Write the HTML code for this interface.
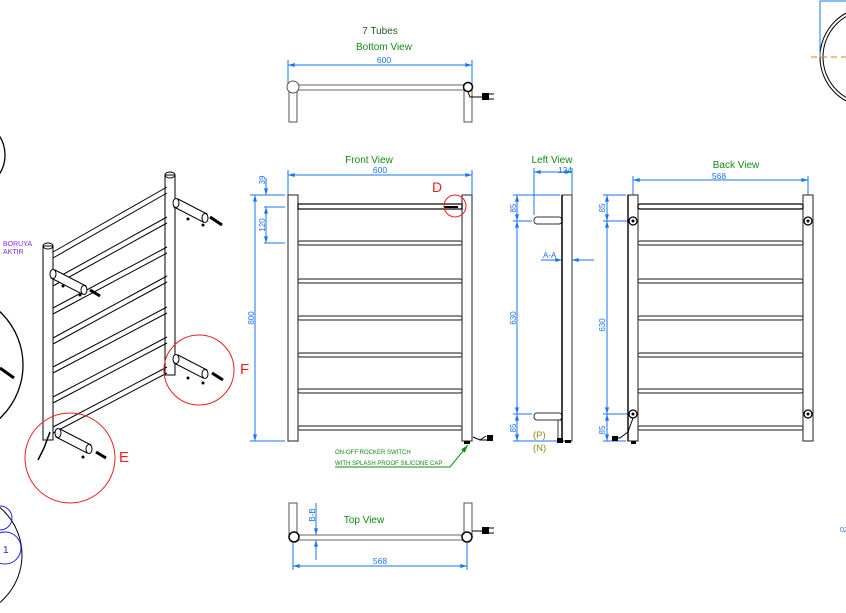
<!DOCTYPE html>
<html><head><meta charset="utf-8"><style>
html,body{margin:0;padding:0;background:#fff;width:846px;height:613px;overflow:hidden}
svg{display:block}
text{font-family:"Liberation Sans",sans-serif}
</style></head><body>
<svg width="846" height="613" viewBox="0 0 846 613" xmlns="http://www.w3.org/2000/svg">
<defs>
<marker id="a" viewBox="0 0 10 6" refX="10" refY="3" markerWidth="10" markerHeight="4" orient="auto-start-reverse"><path d="M0,0L10,3L0,6z" fill="#1a73f0"/></marker>
<marker id="g" viewBox="0 0 10 6" refX="10" refY="3" markerWidth="8" markerHeight="5" orient="auto"><path d="M0,0L10,3L0,6z" fill="#138a13"/></marker>
</defs>
<circle cx="-30" cy="155" r="35" fill="none" stroke="#000" stroke-width="1.3"/>
<circle cx="-50" cy="365" r="73" fill="none" stroke="#000" stroke-width="1.3"/>
<line x1="0" y1="368" x2="14" y2="378" stroke="#000" stroke-width="3"/>
<circle cx="-40" cy="555" r="62" fill="none" stroke="#000" stroke-width="1"/>
<circle cx="0" cy="518" r="12" fill="none" stroke="#2020ff" stroke-width="1"/>
<circle cx="5" cy="548" r="16" fill="none" stroke="#2020ff" stroke-width="1"/>
<text x="3" y="553" font-size="10" fill="#2020ff">1</text>
<circle cx="870" cy="57" r="50" fill="none" stroke="#000" stroke-width="1"/>
<circle cx="870" cy="57" r="47" fill="none" stroke="#000" stroke-width="1"/>
<path d="M820,57V1H846" fill="none" stroke="#1a73f0" stroke-width="1"/>
<line x1="811" y1="57" x2="846" y2="57" stroke="#e87a1a" stroke-dasharray="6,4"/>
<text x="840" y="532" font-size="7" fill="#1a73f0">02</text>
<text x="3" y="246" font-size="7" fill="#8a2be2">BORUYA</text>
<text x="3" y="254" font-size="7" fill="#8a2be2">AKTIR</text>

<g stroke="#000" stroke-width="1" fill="none">
<rect x="43" y="246" width="10" height="194" fill="#fff"/>
<ellipse cx="48" cy="246" rx="5" ry="3"/>
<rect x="165" y="175" width="10" height="200" fill="#fff"/>
<ellipse cx="170" cy="175" rx="5" ry="3"/>
<path d="M53,252L167,187M53,258L167,193"/>
<path d="M53,280L167,217M53,286L167,223"/>
<path d="M53,308L167,247M53,314L167,253"/>
<path d="M53,338L167,276M53,344L167,282"/>
<path d="M53,367L167,307M53,373L167,313"/>
<path d="M53,397L167,337M53,403L167,343"/>
<path d="M53,427L167,367M53,433L167,373"/>
<g fill="#fff">
<path d="M178,199L207,214L203,222L174,207Z"/><ellipse cx="176" cy="203" rx="3" ry="4.5"/><ellipse cx="205" cy="218" rx="3" ry="4.5"/>
<path d="M55,270L86,286L82,294L51,278Z"/><ellipse cx="53" cy="274" rx="3" ry="4.5"/><ellipse cx="84" cy="290" rx="3" ry="4.5"/>
<path d="M178,355L207,370L203,378L174,363Z"/><ellipse cx="176" cy="359" rx="3" ry="4.5"/><ellipse cx="205" cy="374" rx="3" ry="4.5"/>
<path d="M60,429L91,445L87,453L56,437Z"/><ellipse cx="58" cy="433" rx="3" ry="4.5"/><ellipse cx="89" cy="449" rx="3" ry="4.5"/>
</g>
<path d="M210,217L222,225M90,290L100,296M212,373L223,380M96,452L106,458" stroke-width="3"/>
<path d="M50,432L44,448L38,460" stroke-width="1.5"/>
<circle cx="188" cy="219" r="1" fill="#000"/><circle cx="203" cy="225" r="1" fill="#000"/>
<circle cx="63" cy="286" r="1" fill="#000"/><circle cx="80" cy="295" r="1" fill="#000"/>
<circle cx="188" cy="378" r="1" fill="#000"/><circle cx="203" cy="383" r="1" fill="#000"/>
<circle cx="83" cy="457" r="1" fill="#000"/>
</g>
<circle cx="70" cy="458" r="45" fill="none" stroke="#e82020" stroke-width="1"/>
<circle cx="199" cy="370" r="35" fill="none" stroke="#e82020" stroke-width="1"/>
<text x="119" y="462" font-size="15" fill="#e82020">E</text>
<text x="240" y="374" font-size="15" fill="#e82020">F</text>

<text x="380" y="34" font-size="10" text-anchor="middle" fill="#1d5f1d">7 Tubes</text>
<text x="384" y="50" font-size="10" text-anchor="middle" fill="#138a13">Bottom View</text>
<line x1="288" y1="65" x2="472" y2="65" stroke="#1a73f0" marker-start="url(#a)" marker-end="url(#a)"/>
<line x1="288" y1="60" x2="288" y2="88" stroke="#1a73f0"/><line x1="472" y1="60" x2="472" y2="88" stroke="#1a73f0"/>
<text x="384" y="63" font-size="8.5" fill="#1a73f0" text-anchor="middle">600</text>
<g stroke="#555" fill="#fff">
<rect x="289" y="87" width="8" height="35"/><rect x="464" y="87" width="8" height="35"/>
<rect x="296" y="85" width="168" height="5" fill="#fff" stroke="#999" stroke-width="1.5"/>
<circle cx="293" cy="87" r="6"/><circle cx="468" cy="87" r="4.5" stroke="#000" stroke-width="1.5"/>
</g>
<path d="M468,92L470,97H482" stroke="#000" fill="none"/><rect x="482" y="93" width="7" height="7" fill="#000"/><path d="M489,94h5M489,99h5" stroke="#000"/>

<text x="369" y="163" font-size="10" text-anchor="middle" fill="#138a13">Front View</text>
<g stroke="#1a73f0" fill="none">
<line x1="288" y1="175" x2="472" y2="175" marker-start="url(#a)" marker-end="url(#a)"/>
<path d="M288,170V195M472,170V195"/>
<line x1="255" y1="195" x2="255" y2="441" marker-start="url(#a)" marker-end="url(#a)"/>
<path d="M250,195H285M264,207H285M264,243H285M250,441H285"/>
<line x1="266" y1="178" x2="266" y2="195" marker-end="url(#a)"/>
<line x1="266" y1="207" x2="266" y2="243" marker-start="url(#a)" marker-end="url(#a)"/>
</g>
<text x="380" y="173" font-size="8.5" text-anchor="middle" fill="#1a73f0">600</text>
<g font-size="8" fill="#1a73f0">
<text transform="translate(265,180) rotate(-90)" text-anchor="middle">39</text>
<text transform="translate(265,225) rotate(-90)" text-anchor="middle">120</text>
<text transform="translate(254,318) rotate(-90)" text-anchor="middle">800</text>
</g>
<g stroke="#444" fill="#fff" stroke-width="1.2">
<rect x="288" y="195" width="10" height="246"/><rect x="462" y="195" width="10" height="246"/>
<rect x="298" y="204" width="164" height="5" stroke="#000"/>
<rect x="298" y="241" width="164" height="4" rx="2"/><rect x="298" y="279" width="164" height="4" rx="2"/>
<rect x="298" y="316" width="164" height="4" rx="2"/><rect x="298" y="353" width="164" height="4" rx="2"/>
<rect x="298" y="389" width="164" height="4" rx="2"/><rect x="298" y="426" width="164" height="4" rx="2"/>
</g>
<rect x="444" y="206" width="14" height="2" fill="#000"/>
<circle cx="455" cy="206" r="11" fill="none" stroke="#e82020"/>
<text x="432" y="192" font-size="14" fill="#e82020">D</text>
<rect x="464" y="441" width="6" height="3" fill="#000"/>
<path d="M473,437L480,440H488M480,440L486,436" stroke="#000" fill="none"/><rect x="487" y="435" width="6" height="6" fill="#000"/>
<text x="335" y="454" font-size="6" fill="#138a13">ON-OFF ROCKER SWITCH</text>
<text x="335" y="465" font-size="6" fill="#138a13">WITH SPLASH PROOF SILICONE CAP</text>
<path d="M335,467H450L468,445" stroke="#138a13" fill="none" marker-end="url(#g)"/>

<text x="552" y="163" font-size="10" text-anchor="middle" fill="#138a13">Left View</text>
<g stroke="#1a73f0" fill="none">
<line x1="534" y1="172" x2="572" y2="172" marker-start="url(#a)" marker-end="url(#a)"/>
<path d="M534,168V215M572,168V195"/>
<line x1="517" y1="195" x2="517" y2="221" marker-start="url(#a)" marker-end="url(#a)"/>
<line x1="517" y1="221" x2="517" y2="414" marker-start="url(#a)" marker-end="url(#a)"/>
<line x1="517" y1="414" x2="517" y2="441" marker-start="url(#a)" marker-end="url(#a)"/>
<path d="M513,195H560M513,221H532M513,414H532M513,441H560"/>
<path d="M541,260H594"/>
<line x1="541" y1="260" x2="562" y2="260" marker-end="url(#a)"/>
<line x1="594" y1="260" x2="572" y2="260" marker-end="url(#a)"/>
</g>
<text x="543" y="258" font-size="8" fill="#1a73f0">A-A</text>
<text x="565" y="173" font-size="8.5" fill="#1a73f0" text-anchor="middle">124</text>
<g font-size="8" fill="#1a73f0">
<text transform="translate(516,208) rotate(-90)" text-anchor="middle">85</text>
<text transform="translate(516,318) rotate(-90)" text-anchor="middle">630</text>
<text transform="translate(516,428) rotate(-90)" text-anchor="middle">85</text>
</g>
<g stroke="#333" fill="#fff">
<rect x="562" y="195" width="10" height="246"/>
<rect x="534" y="217" width="28" height="7" rx="3"/><rect x="534" y="413" width="28" height="7" rx="3"/>
<rect x="558" y="420" width="4" height="21"/>
</g>
<line x1="562" y1="195" x2="562" y2="441" stroke="#000" stroke-width="1.5"/>
<rect x="557" y="438" width="6" height="5" fill="#000"/><rect x="565" y="440" width="6" height="3" fill="#000"/>
<text x="533" y="438" font-size="9.5" fill="#8a8a10">(P)</text>
<text x="533" y="451" font-size="9.5" fill="#8a8a10">(N)</text>

<text x="736" y="168" font-size="10" text-anchor="middle" fill="#138a13">Back View</text>
<g stroke="#1a73f0" fill="none">
<line x1="633" y1="180" x2="808" y2="180" marker-start="url(#a)" marker-end="url(#a)"/>
<path d="M633,176V221M808,176V221"/>
<line x1="607" y1="195" x2="607" y2="221" marker-start="url(#a)" marker-end="url(#a)"/>
<line x1="607" y1="221" x2="607" y2="414" marker-start="url(#a)" marker-end="url(#a)"/>
<line x1="607" y1="414" x2="607" y2="441" marker-start="url(#a)" marker-end="url(#a)"/>
<path d="M603,195H626M603,221H628M603,414H628M603,441H626"/>
</g>
<text x="719" y="179" font-size="8.5" fill="#1a73f0" text-anchor="middle">568</text>
<g font-size="8" fill="#1a73f0">
<text transform="translate(605,208) rotate(-90)" text-anchor="middle">85</text>
<text transform="translate(605,325) rotate(-90)" text-anchor="middle">630</text>
<text transform="translate(605,430) rotate(-90)" text-anchor="middle">85</text>
</g>
<g stroke="#444" fill="#fff" stroke-width="1.2">
<rect x="628" y="195" width="10" height="246"/><rect x="803" y="195" width="10" height="246"/>
<rect x="638" y="204" width="165" height="5" rx="2" stroke="#000"/>
<rect x="638" y="241" width="165" height="4" rx="2"/><rect x="638" y="279" width="165" height="4" rx="2"/>
<rect x="638" y="316" width="165" height="4" rx="2"/><rect x="638" y="353" width="165" height="4" rx="2"/>
<rect x="638" y="389" width="165" height="4" rx="2"/><rect x="638" y="426" width="165" height="4" rx="2"/>
</g>
<line x1="628" y1="195" x2="628" y2="441" stroke="#000" stroke-width="1.3"/>
<g fill="#fff" stroke="#000" stroke-width="1.3">
<circle cx="633" cy="221" r="4"/><circle cx="808" cy="221" r="4"/>
<circle cx="633" cy="414" r="4"/><circle cx="808" cy="414" r="4"/>
</g>
<g fill="#000"><circle cx="633" cy="221" r="1.5"/><circle cx="808" cy="221" r="1.5"/><circle cx="633" cy="414" r="1.5"/><circle cx="808" cy="414" r="1.5"/></g>
<path d="M633,418L628,432L620,438H612" stroke="#000" fill="none"/><rect x="612" y="436" width="6" height="5" fill="#000"/><rect x="631" y="441" width="5" height="3" fill="#000"/>

<text x="364" y="523" font-size="10" text-anchor="middle" fill="#138a13">Top View</text>
<g stroke="#555" fill="#fff">
<rect x="289" y="503" width="8" height="35"/><rect x="464" y="503" width="8" height="35"/>
<rect x="296" y="535" width="168" height="5" stroke="#999" stroke-width="1.5"/>
<circle cx="294" cy="537" r="5" stroke="#000" stroke-width="1.5"/><circle cx="467" cy="537" r="5" stroke="#000" stroke-width="1.5"/>
</g>
<path d="M472,531H482" stroke="#000"/><rect x="482" y="527" width="7" height="7" fill="#000"/><path d="M489,528h5M489,533h5" stroke="#000"/>
<g stroke="#1a73f0" fill="none">
<line x1="316" y1="503" x2="316" y2="535" marker-end="url(#a)"/>
<line x1="316" y1="560" x2="316" y2="540" marker-end="url(#a)"/>
<line x1="293" y1="566" x2="467" y2="566" marker-start="url(#a)" marker-end="url(#a)"/>
<path d="M293,542V570M467,542V570"/>
</g>
<text transform="translate(315,515) rotate(-90)" font-size="8" fill="#1a73f0" text-anchor="middle">B-B</text>
<text x="380" y="564" font-size="8.5" fill="#1a73f0" text-anchor="middle">568</text>
</svg>
</body></html>
